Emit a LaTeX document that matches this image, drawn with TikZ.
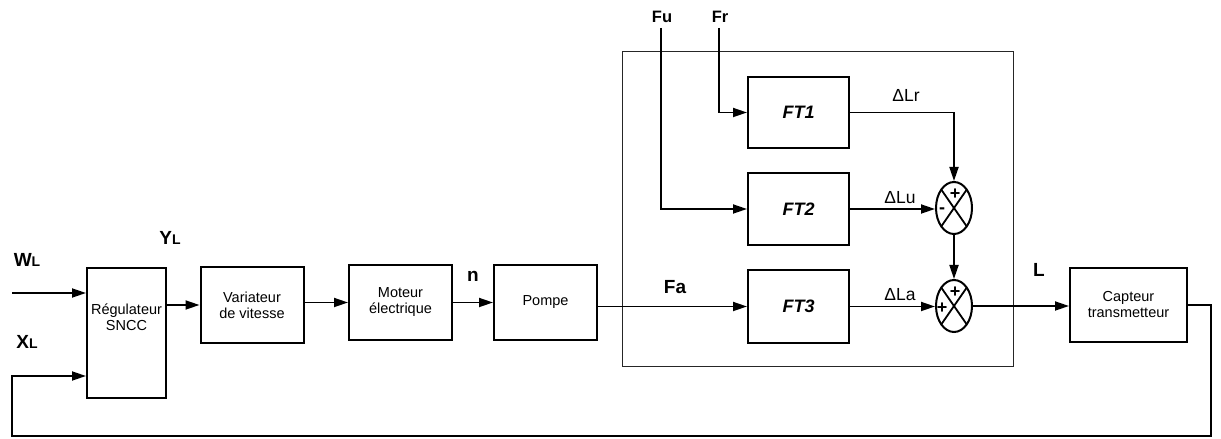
\documentclass[tikz,border=0pt]{standalone}
\usepackage{fontspec}
\setmainfont{Liberation Sans}
\usetikzlibrary{arrows.meta,shapes.geometric}
\begin{document}
\begin{tikzpicture}[x=1bp,y=-1bp,
 blk/.style={draw,line width=2bp,minimum width=103bp,minimum height=75bp,inner sep=0pt,align=center,font=\fontsize{14.5bp}{16bp}\selectfont},
 txt/.style={inner sep=0pt,align=center,font=\fontsize{14.5bp}{16bp}\selectfont},
 ftb/.style={draw,line width=2bp,minimum width=101bp,minimum height=72bp,inner sep=0pt,font=\fontsize{18bp}{20bp}\selectfont\bfseries\itshape},
 lab/.style={inner sep=0pt,font=\fontsize{19bp}{20bp}\selectfont\bfseries},
 sublab/.style={inner sep=0pt,font=\fontsize{16.5bp}{18bp}\selectfont\bfseries},
 dlab/.style={inner sep=0pt,font=\fontsize{17.5bp}{18bp}\selectfont},
 arr/.style={line width=1.8bp,-{Triangle[length=14bp,width=9bp]}},
 sum/.style={draw,ellipse,line width=2bp,minimum width=36bp,minimum height=52bp,inner sep=0pt,
   path picture={\draw[line width=1.8bp] (path picture bounding box.north west)--(path picture bounding box.south east) (path picture bounding box.north east)--(path picture bounding box.south west);}},
 sgn/.style={inner sep=0pt,font=\fontsize{18bp}{18bp}\selectfont\bfseries}
]
\useasboundingbox (0,0) rectangle (1221,439);

% blocks
\node[blk,minimum width=79bp,minimum height=130bp] (reg) at (126.5,333) {};
\node[txt] (regt) at (126.5,317) {Régulateur\\SNCC};
\node[blk,minimum height=76bp] (var) at (252,305) {Variateur\\de vitesse};
\node[blk] (mot) at (400.5,302.5) {Moteur\\électrique};
\node[blk] (pom) at (545.5,302.5) {Pompe};
\node[draw,black!85,line width=1bp,minimum width=391bp,minimum height=314bp,inner sep=0pt] (sys) at (817.5,209) {};
\node[ftb,minimum height=71bp] (ft1) at (798.5,112.5) {FT1};
\node[ftb] (ft2) at (798.5,209) {FT2};
\node[ftb,minimum height=73bp] (ft3) at (798.5,306.5) {FT3};
\node[sum] (s1) at (954,208) {};
\node[sum] (s2) at (954,306) {};
\node[blk,minimum width=117bp,minimum height=74bp] (cap) at (1128.5,305) {Capteur\\transmetteur};

% signs
\node[sgn] (p1) at (955,194) {+};
\node[sgn] (m1) at (942,211) {-};
\node[sgn] (p2) at (955,292) {+};
\node[sgn] (p3) at (942,308) {+};

% labels
\node[lab] (wl) at (27,260) {W\fontsize{14bp}{14bp}\selectfont L};
\node[lab] (xl) at (27,342) {X\fontsize{14bp}{14bp}\selectfont L};
\node[lab] (yl) at (170,238) {Y\fontsize{14bp}{14bp}\selectfont L};
\node[lab] (nl) at (473,276) {n};
\node[lab] (fal) at (675,287) {Fa};
\node[lab] (ll) at (1039,270) {L};
\node[sublab] (ful) at (662,17) {Fu};
\node[sublab] (frl) at (720,17) {Fr};
\node[dlab] (dlr) at (906,95) {ΔLr};
\node[dlab] (dlu) at (900,198) {ΔLu};
\node[dlab] (dla) at (900,295) {ΔLa};

% coordinates
\coordinate (win) at (12,293);
\coordinate (fuin) at (661,28);
\coordinate (frin) at (719,28);
\coordinate (fbr) at (1211,436);
\coordinate (fbl) at (12,436);
\coordinate (xin) at (12,376);

% connectors
\draw[arr] (win) -- (win -| reg.west);
\draw[arr] ([yshift=28bp]reg.east) -- (var.west);
\draw[arr] (var.east |- mot.west) -- (mot.west);
\draw[arr] (mot.east) -- (pom.west);
\draw[arr] (pom.east |- ft3.west) -- (ft3.west);
\draw[arr] (fuin) -- (fuin |- ft2.west) -- (ft2.west);
\draw[arr] (frin) -- (frin |- ft1.west) -- (ft1.west);
\draw[arr] (ft1.east) -- (ft1.east -| s1.north) -- (s1.north);
\draw[arr] (ft2.east) -- (ft2.east -| s1.west);
\draw[arr] (ft3.east) -- (ft3.east -| s2.west);
\draw[arr] (s1.south) -- (s2.north);
\draw[arr] (s2.east) -- (s2.east -| cap.west);
\draw[arr] (cap.east) -- (cap.east -| fbr) -- (fbr) -- (fbl) -- (xin) -- (xin -| reg.west);
\end{tikzpicture}
\end{document}
